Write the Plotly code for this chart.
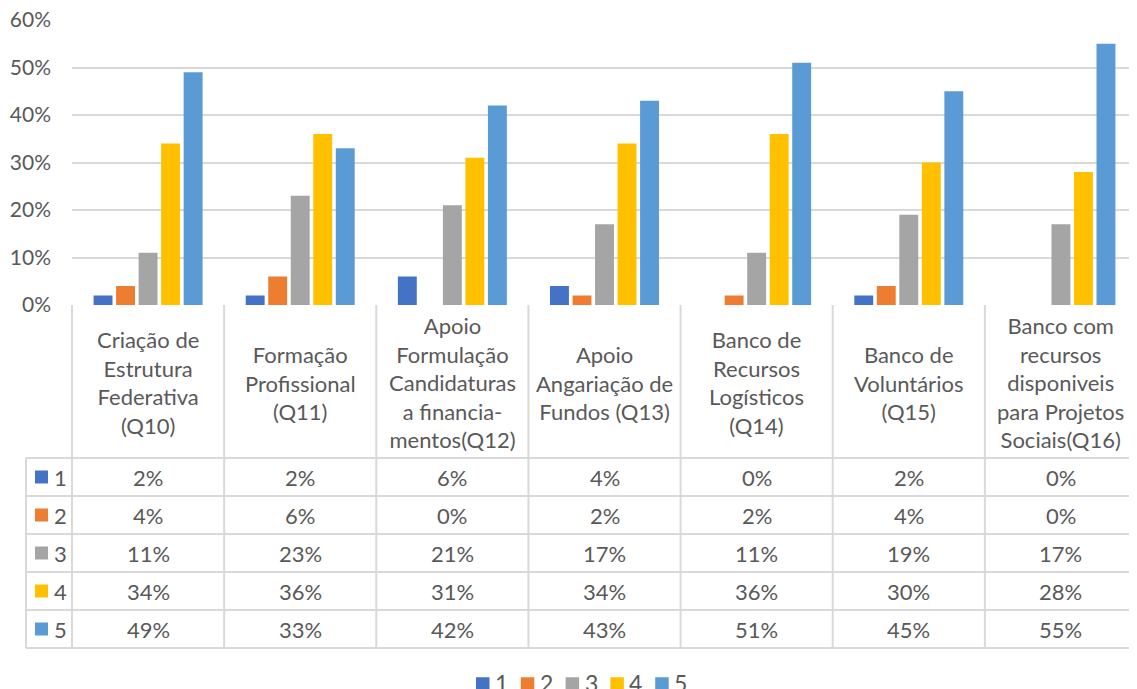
import plotly.graph_objects as go

categories = [
    "Criação de<br>Estrutura<br>Federativa<br>(Q10)",
    "Formação<br>Profissional<br>(Q11)",
    "Apoio<br>Formulação<br>Candidaturas<br>a financia-<br>mentos(Q12)",
    "Apoio<br>Angariação de<br>Fundos (Q13)",
    "Banco de<br>Recursos<br>Logísticos<br>(Q14)",
    "Banco de<br>Voluntários<br>(Q15)",
    "Banco com<br>recursos<br>disponiveis<br>para Projetos<br>Sociais(Q16)",
]
series_names = ["1", "2", "3", "4", "5"]
s1 = [0.02, 0.02, 0.06, 0.04, 0.00, 0.02, 0.00]
s2 = [0.04, 0.06, 0.00, 0.02, 0.02, 0.04, 0.00]
s3 = [0.11, 0.23, 0.21, 0.17, 0.11, 0.19, 0.17]
s4 = [0.34, 0.36, 0.31, 0.34, 0.36, 0.30, 0.28]
s5 = [0.49, 0.33, 0.42, 0.43, 0.51, 0.45, 0.55]
series_values = [s1, s2, s3, s4, s5]
colors = ["#4472C4", "#ED7D31", "#A5A5A5", "#FFC000", "#5B9BD5"]
y_ticks = [0, 0.1, 0.2, 0.3, 0.4, 0.5, 0.6]

# page body margin offsets the figure by 8px
OFF = 8
WIN_W, WIN_H = 1137, 689
W, H = WIN_W - OFF, WIN_H - OFF
FONT = "Lato"
TXT = "#595959"
GRID = "#D9D9D9"

def px_x(x):
    return (x - OFF) / W

def py(y):
    return 1 - (y - OFF) / H

plot_left, plot_right, plot_top, plot_bottom = 72, 1137, 20, 305
header_bottom = 458
row_h = 38
table_left = 26
n = len(categories)

def dom(x):
    return (x - plot_left) / (plot_right - plot_left)

fig = go.Figure()
for name, vals, c in zip(series_names, series_values, colors):
    fig.add_trace(go.Bar(x=categories, y=vals, name=name, marker_color=c,
                         marker_line_width=0, showlegend=False))

shapes = []
annots = []
left_dom = dom(table_left)
table_bottom = header_bottom + row_h * len(series_names)
for i in range(n + 1):
    xd = i / n
    shapes.append(dict(type="line", xref="x domain", yref="paper", x0=xd, x1=xd,
                       y0=py(plot_bottom), y1=py(table_bottom),
                       line=dict(color=GRID, width=2)))
shapes.append(dict(type="line", xref="x domain", yref="paper", x0=left_dom, x1=left_dom,
                   y0=py(header_bottom), y1=py(table_bottom), line=dict(color=GRID, width=2)))
for r in range(len(series_names) + 1):
    yy = py(header_bottom + r * row_h)
    shapes.append(dict(type="line", xref="x domain", yref="paper", x0=left_dom, x1=1,
                       y0=yy, y1=yy, line=dict(color=GRID, width=2)))

for cat in categories:
    annots.append(dict(x=cat, xref="x", yref="paper", y=py((plot_bottom + header_bottom) / 2 + 1),
                       text=cat, showarrow=False, font=dict(family=FONT, size=22, color=TXT),
                       xanchor="center", yanchor="middle", align="center"))
for r, (name, vals, c) in enumerate(zip(series_names, series_values, colors)):
    yc = py(header_bottom + r * row_h + row_h / 2)
    for cat, v in zip(categories, vals):
        annots.append(dict(x=cat, xref="x", yref="paper", y=yc, text=f"{round(v*100)}%",
                           showarrow=False, font=dict(family=FONT, size=22, color=TXT),
                           xanchor="center", yanchor="middle"))
    yk = header_bottom + r * row_h + row_h / 2
    shapes.append(dict(type="rect", xref="x domain", yref="paper", x0=dom(35), x1=dom(48),
                       y0=py(yk - 6.5), y1=py(yk + 6.5), fillcolor=c, line=dict(width=0)))
    annots.append(dict(x=dom(52), xref="x domain", yref="paper", y=yc,
                       text=name, showarrow=False, xanchor="left", yanchor="middle",
                       font=dict(family=FONT, size=22, color=TXT)))

# bottom legend
leg_x0, leg_step, leg_y = 476, 44.8, 684
for k, (name, c) in enumerate(zip(series_names, colors)):
    x0 = leg_x0 + k * leg_step
    shapes.append(dict(type="rect", xref="paper", yref="paper", x0=px_x(x0), x1=px_x(x0 + 13.5),
                       y0=py(leg_y - 6.75), y1=py(leg_y + 6.75), fillcolor=c, line=dict(width=0)))
    annots.append(dict(x=px_x(x0 + 17), xref="paper", yref="paper", y=py(leg_y - 1),
                       text=name, showarrow=False, xanchor="left", yanchor="middle",
                       font=dict(family=FONT, size=23, color=TXT)))

fig.update_layout(
    width=W, height=H,
    margin=dict(l=0, r=0, t=0, b=0, autoexpand=False),
    paper_bgcolor="white", plot_bgcolor="white",
    barmode="group", bargap=0.26, bargroupgap=0.16,
    font=dict(family=FONT, color=TXT, size=21),
    showlegend=False,
    xaxis=dict(domain=[px_x(plot_left), 1], showticklabels=False, showgrid=False,
               zeroline=False, showline=False, ticks="", automargin=False),
    yaxis=dict(domain=[py(plot_bottom), py(plot_top)], range=[0, 0.6001], tickvals=y_ticks,
               tickformat=".0%", showgrid=True, gridcolor=GRID, gridwidth=2,
               zeroline=False, showline=False, ticks="", ticklabelstandoff=20,
               ticklabeloverflow="allow",
               automargin=False, tickfont=dict(family=FONT, size=21, color=TXT)),
    shapes=shapes, annotations=annots,
)
fig.write_html("out.html")
